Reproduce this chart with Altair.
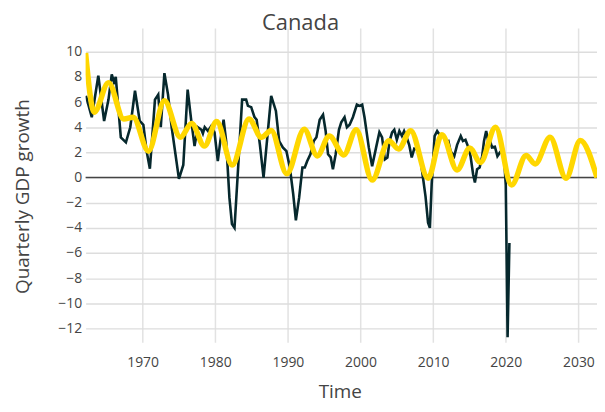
import altair as alt
import pandas as pd

dark_years = [1962.2, 1963.0, 1963.9, 1964.7, 1965.3, 1965.75, 1966.05, 1966.3, 1967.0, 1967.35,
              1967.7, 1968.3, 1968.95, 1969.6, 1970.1, 1970.55, 1971.0, 1971.7, 1972.15, 1972.5,
              1973.0, 1973.5, 1974.0, 1975.0, 1975.6, 1976.2, 1976.7, 1977.15, 1977.6, 1978.1,
              1978.3, 1978.55, 1979.0, 1979.45, 1979.9, 1980.35, 1980.7, 1981.15, 1981.5, 1981.95,
              1982.3, 1982.65, 1983.1, 1983.7, 1984.25, 1984.5, 1984.95, 1985.4, 1985.7, 1986.15,
              1986.65, 1987.2, 1987.7, 1988.35, 1988.8, 1989.3, 1989.8, 1990.27, 1990.73, 1991.1,
              1991.55, 1992.0, 1992.33, 1992.65, 1993.1, 1993.56, 1993.93, 1994.38, 1994.84, 1995.2,
              1995.53, 1995.9, 1996.2, 1996.58, 1997.03, 1997.35, 1997.8, 1998.13, 1998.5, 1998.95,
              1999.5, 1999.86, 2000.23, 2000.55, 2001.14, 2001.6, 2002.15, 2002.6, 2002.97, 2003.35,
              2003.7, 2004.0, 2004.35, 2004.65, 2005.0, 2005.35, 2005.7, 2006.0, 2006.35, 2006.7,
              2007.05, 2007.4, 2007.9, 2008.3, 2008.6, 2008.95, 2009.3, 2009.55, 2009.8, 2010.2,
              2010.55, 2011.0, 2011.35, 2011.75, 2012.1, 2012.4, 2012.9, 2013.3, 2013.8, 2014.1,
              2014.45, 2014.85, 2015.15, 2015.5, 2015.75, 2016.05, 2016.4, 2016.75, 2017.0, 2017.3,
              2017.55, 2017.85, 2018.1, 2018.5, 2018.85, 2019.2, 2019.5, 2019.75, 2020.0, 2020.25,
              2020.5]
dark_vals = [6.5, 4.8, 8.1, 4.5, 6.2, 8.2, 7.6, 8.0, 3.2, 3.0,
             2.8, 4.0, 6.9, 4.5, 4.2, 2.1, 0.7, 6.2, 6.6, 4.0,
             8.3, 6.6, 4.0, -0.1, 1.0, 7.0, 4.5, 2.5, 4.0, 3.8,
             3.5, 4.0, 3.7, 4.1, 3.6, 1.3, 2.9, 4.6, 2.9, -1.6,
             -3.7, -4.0, 0.3, 6.2, 6.2, 5.7, 5.6, 4.8, 4.6, 2.6,
             0.0, 3.4, 6.5, 5.3, 2.9, 2.4, 2.1, 0.8, -1.3, -3.4,
             -1.6, 0.8, 0.8, 1.3, 1.85, 2.9, 3.2, 4.6, 5.0, 3.7,
             1.85, 1.6, 0.66, 1.85, 3.8, 4.4, 4.8, 4.0, 4.2, 4.8,
             5.8, 5.7, 5.8, 4.8, 2.4, 0.9, 2.4, 3.6, 3.2, 1.45,
             1.6, 2.9, 3.6, 3.8, 3.0, 3.7, 3.3, 3.7, 3.2, 2.6,
             1.6, 2.3, 2.2, 1.3, 0.0, -1.5, -3.6, -4.0, -0.5, 3.3,
             3.7, 3.3, 3.4, 2.8, 2.9, 2.1, 1.7, 2.6, 3.3, 2.9,
             3.0, 2.4, 1.7, 0.26, -0.4, 0.66, 0.8, 1.7, 2.9, 3.7,
             3.0, 2.9, 2.4, 2.45, 1.7, 2.0, 2.2, 1.7, -0.6, -12.7,
             -5.2]

# Smooth model / forecast line (turning points)
fit_years = [1962.15, 1963.35, 1965.3, 1967.4, 1968.7, 1970.8, 1973.0, 1975.2, 1976.75, 1978.5,
             1980.2, 1982.33, 1984.65, 1986.35, 1987.7, 1989.85, 1992.25, 1994.05, 1995.7, 1997.7,
             1999.4, 2001.6, 2003.9, 2005.25, 2006.9, 2009.3, 2011.2, 2013.3, 2015.05, 2016.5,
             2018.6, 2020.8, 2022.8, 2024.05, 2026.1, 2028.3, 2030.25, 2032.56]
fit_vals = [9.9, 5.2, 7.55, 4.65, 4.8, 2.1, 6.1, 3.2, 4.3, 2.5,
            4.45, 1.0, 4.65, 3.2, 3.75, 0.3, 3.85, 1.72, 3.3, 1.8,
            3.8, -0.2, 2.93, 2.27, 3.73, -0.05, 3.4, 0.6, 2.35, 1.2,
            4.0, -0.6, 1.75, 1.08, 3.2, -0.05, 2.95, 0.0]

y_ticks = [-12, -10, -8, -6, -4, -2, 0, 2, 4, 6, 8, 10]
x_ticks = [1970, 1980, 1990, 2000, 2010, 2020, 2030]

FONT = "Open Sans"
TXT = "#444444"

dark_df = pd.DataFrame({"year": dark_years, "value": dark_vals})
fit_df = pd.DataFrame({"year": fit_years, "value": fit_vals})
zero_df = pd.DataFrame({"value": [0]})

x_scale = alt.Scale(domain=[1962.15, 2032.56], nice=False, zero=False)
y_scale = alt.Scale(domain=[-13.1, 11.9], nice=False, zero=False)

x_axis = alt.Axis(values=x_ticks, format="d", title="Time", grid=True, gridColor="#e2e2e2",
                  gridWidth=1.5, domain=False, ticks=False, tickSize=0, labelPadding=13,
                  labelFontSize=14, labelColor=TXT, labelFont=FONT,
                  titleFontSize=19, titleFont=FONT, titleColor=TXT, titleFontWeight="normal",
                  titleX=255.5, titleY=49, titleBaseline="middle", titleAlign="center")
y_axis = alt.Axis(values=y_ticks, format="d", title="Quarterly GDP growth", grid=True,
                  gridColor="#dddddd", gridWidth=1.5, domain=False, ticks=False, tickSize=0,
                  labelPadding=4, labelFontSize=14, labelColor=TXT, labelFont=FONT,
                  titleFontSize=19, titleFont=FONT, titleColor=TXT, titleFontWeight="normal",
                  titleX=-63, titleY=169, titleBaseline="middle", titleAlign="center", titleAngle=270)

X = alt.X("year:Q", scale=x_scale, axis=x_axis)
Y = alt.Y("value:Q", scale=y_scale, axis=y_axis)

zero = alt.Chart(zero_df).mark_rule(color="#444444", strokeWidth=1.5).encode(y=Y)

dark = alt.Chart(dark_df).mark_line(color="#06282d", strokeWidth=2.6, clip=True).encode(x=X, y=Y)

fit = alt.Chart(fit_df).mark_line(color="#FFD700", strokeWidth=5.5, interpolate="monotone",
                                  clip=True).encode(x=X, y=Y)

chart = alt.layer(zero, dark, fit).properties(
    width=514, height=316,
    autosize=alt.AutoSizeParams(type="none"),
    padding={"left": 78, "top": 19, "right": 0, "bottom": 61},
    title=alt.TitleParams(text="Canada", fontSize=22, font=FONT, color=TXT, fontWeight="normal",
                          anchor="middle", dx=-41, offset=-7),
).configure_view(stroke=None)

chart.save("out.html", embed_options={"renderer": "svg", "actions": False})
